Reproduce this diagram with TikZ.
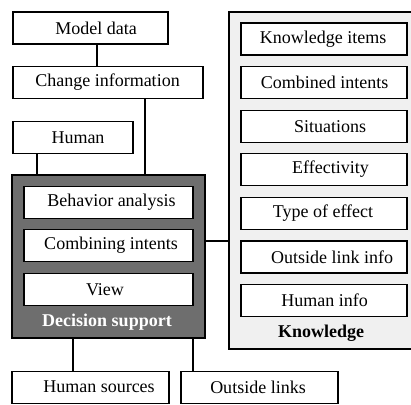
\documentclass[tikz,border=0pt]{standalone}
\usepackage{fontspec}
\setmainfont{Liberation Serif}
\begin{document}
\begin{tikzpicture}[x=1pt,y=-1pt,
  box/.style={draw=black,line width=1.4pt,fill=white,inner sep=0pt,minimum height=32pt},
  txt/.style={inner sep=0pt,font=\fontsize{18}{20}\selectfont},
  wire/.style={line width=1.4pt}]
\useasboundingbox (0,0) rectangle (411,404);

% containers
\node[draw=black,line width=2pt,fill=black!57,inner sep=0pt,minimum width=193pt,minimum height=163pt] (ds) at (108.5,256.5) {};
\node[draw=black,line width=1.4pt,fill=black!6,inner sep=0pt,minimum width=184pt,minimum height=337pt] (kn) at (321,180.5) {};

% outer boxes
\node[box,minimum width=155pt] (md) at (90.5,28) {};
\node[box,minimum width=190pt] (ci) at (108,82.5) {};
\node[box,minimum width=120pt] (hu) at (73,137.5) {};
\node[box,minimum width=157pt] (hs) at (90.5,387.5) {};
\node[box,minimum width=157pt] (ol) at (259.5,387.5) {};

% decision support parts
\node[box,minimum width=169pt] (ba) at (108.5,202.5) {};
\node[box,minimum width=169pt] (cb) at (108.5,245.5) {};
\node[box,minimum width=169pt] (vw) at (108.5,289.5) {};

% knowledge parts
\node[box,minimum width=166pt] (k1) at (324,39) {};
\node[box,minimum width=166pt] (k2) at (324,82.5) {};
\node[box,minimum width=166pt] (k3) at (324,126.5) {};
\node[box,minimum width=166pt] (k4) at (324,169.5) {};
\node[box,minimum width=166pt] (k5) at (324,213.5) {};
\node[box,minimum width=166pt] (k6) at (324,257) {};
\node[box,minimum width=166pt] (k7) at (324,300.5) {};

% labels
\node[txt] (tmd) at (96,28) {Model data};
\node[txt] (tci) at (107.5,82.5) {Change information};
\node[txt] (thu) at (78,137.5) {Human};
\node[txt] (tba) at (111.5,202.5) {Behavior analysis};
\node[txt] (tcb) at (111,245.5) {Combining intents};
\node[txt] (tvw) at (105,289.5) {View};
\node[txt,text=white,font=\fontsize{18}{20}\selectfont\bfseries] (tds) at (107,322) {Decision support};
\node[txt] (ths) at (99,387) {Human sources};
\node[txt] (tol) at (258,387) {Outside links};
\node[txt] (tk1) at (323,39) {Knowledge items};
\node[txt] (tk2) at (324.5,82.5) {Combined intents};
\node[txt] (tk3) at (330,126.5) {Situations};
\node[txt] (tk4) at (330.5,169.5) {Effectivity};
\node[txt] (tk5) at (323,213.5) {Type of effect};
\node[txt] (tk6) at (332,257) {Outside link info};
\node[txt] (tk7) at (324.5,300.5) {Human info};
\node[txt,font=\fontsize{18}{20}\selectfont\bfseries] (tkn) at (321,333) {Knowledge};

% connector positions
\coordinate (c97) at (97,0);
\coordinate (c145) at (145,0);
\coordinate (c37) at (37,0);
\coordinate (c73) at (73,0);
\coordinate (c193) at (193,0);
\coordinate (c241) at (0,241);

% connectors
\draw[wire] (md.south -| c97) -- (ci.north -| c97);
\draw[wire] (ci.south -| c145) -- (ds.north -| c145);
\draw[wire] (hu.south -| c37) -- (ds.north -| c37);
\draw[wire] (ds.south -| c73) -- (hs.north -| c73);
\draw[wire] (ds.south -| c193) -- (ol.north -| c193);
\draw[wire] (ds.east |- c241) -- (kn.west |- c241);
\end{tikzpicture}
\end{document}
